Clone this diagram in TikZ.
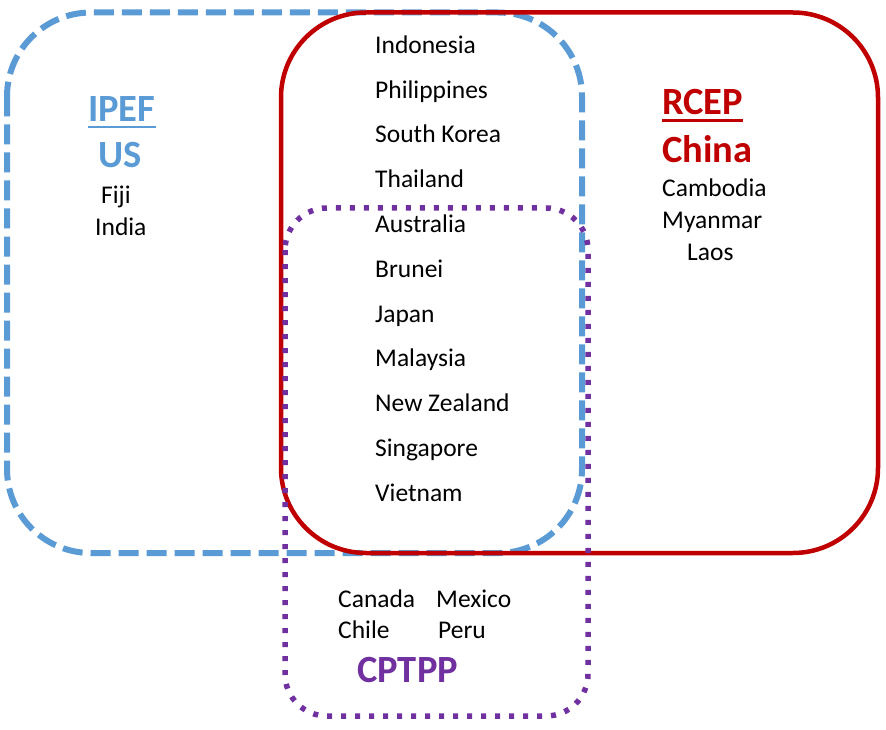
\documentclass[tikz,border=0pt]{standalone}
\usepackage{fontspec}
\setmainfont{Carlito}
\definecolor{ipefblue}{HTML}{5B9BD5}
\definecolor{rcepred}{HTML}{C00000}
\definecolor{cpurple}{HTML}{7030A0}
\begin{document}
\begin{tikzpicture}[x=1pt,y=-1pt,
  lbl/.style={anchor=base west,inner sep=0pt,font=\fontsize{25.5}{25.5}\selectfont},
  head/.style={anchor=base west,inner sep=0pt,font=\fontsize{38.5}{38.5}\selectfont\bfseries},
  bluebox/.style={draw=ipefblue,line width=6pt,dash pattern=on 20pt off 8pt,rounded corners=84pt},
  redbox/.style={draw=rcepred,line width=4.5pt,rounded corners=85pt},
  purplebox/.style={draw=cpurple,line width=5.5pt,dash pattern=on 5pt off 9pt,rounded corners=42pt}]
\useasboundingbox (0,0) rectangle (886,730);
\fill[white] (0,0) rectangle (886,730);
% boxes
\draw[bluebox] (7,12.5) rectangle (582,553);
\draw[redbox] (281,12.5) rectangle (878,553);
\draw[purplebox] (285,208) rectangle (588,716);
% IPEF
\node[head,text=ipefblue] (ipef) at (88,121.7) {IPEF};
\draw[ipefblue,line width=2.5pt] ([yshift=-5.5pt]ipef.base west) -- ([yshift=-5.5pt]ipef.base east);
\node[head,text=ipefblue] (us) at (98,168) {US};
\node[lbl] (fiji) at (101,204) {Fiji};
\node[lbl] (india) at (95,236) {India};
% RCEP
\node[head,text=rcepred] (rcep) at (662,115) {RCEP};
\draw[rcepred,line width=2.5pt] ([yshift=-5.5pt]rcep.base west) -- ([yshift=-5.5pt]rcep.base east);
\node[head,text=rcepred] (china) at (662,163) {China};
\node[lbl] (cambodia) at (662,197) {Cambodia};
\node[lbl] (myanmar) at (662,229) {Myanmar};
\node[lbl] (laos) at (687,260) {Laos};
% shared
\node[lbl] (c0) at (375,53.3) {Indonesia};
\node[lbl] (c1) at (375,98.1) {Philippines};
\node[lbl] (c2) at (375,142.9) {South Korea};
\node[lbl] (c3) at (375,187.7) {Thailand};
\node[lbl] (c4) at (375,232.5) {Australia};
\node[lbl] (c5) at (375,277.3) {Brunei};
\node[lbl] (c6) at (375,322.1) {Japan};
\node[lbl] (c7) at (375,366.9) {Malaysia};
\node[lbl] (c8) at (375,411.7) {New Zealand};
\node[lbl] (c9) at (375,456.5) {Singapore};
\node[lbl] (c10) at (375,501.3) {Vietnam};
% CPTPP
\node[lbl] (canada) at (338,607) {Canada};
\node[lbl] (mexico) at (436,607) {Mexico};
\node[lbl] (chile) at (338,638) {Chile};
\node[lbl] (peru) at (438,638) {Peru};
\node[head,text=cpurple] (cptpp) at (357,682) {CPTPP};
\end{tikzpicture}
\end{document}
